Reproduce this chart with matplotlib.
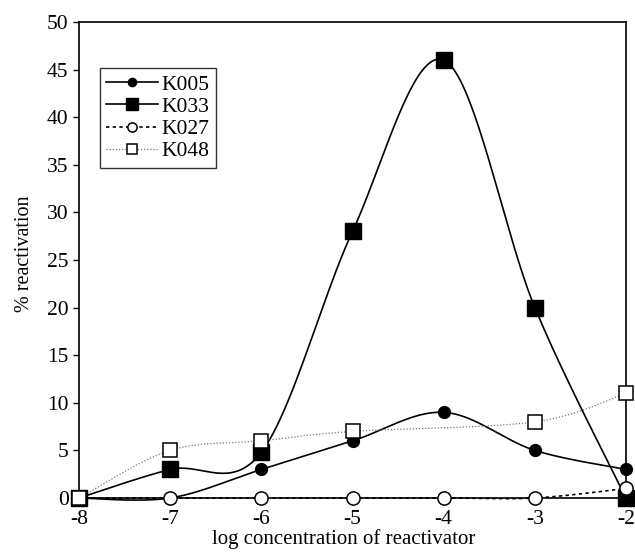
import numpy as np
import matplotlib
matplotlib.use('Agg')
import matplotlib.pyplot as plt

# data
log_conc = [-8, -7, -6, -5, -4, -3, -2]
k005 = [0, 0, 3, 6, 9, 5, 3]
k033 = [0, 3, 4.8, 28, 46, 20, 0]
k027 = [0, 0, 0, 0, 0, 0, 1]
k048_x = [-8, -7, -6, -5, -3, -2]
k048 = [0, 5, 6, 7, 8, 11]
x_labels = ['-8', '-7', '-6', '-5', '-4', '-3', '-2']


def smooth(x, y, n=40):
    # Excel-like smoothed line (Catmull-Rom bezier)
    x = np.asarray(x, float)
    y = np.asarray(y, float)
    px, py = [], []
    for i in range(len(x) - 1):
        i0 = max(i - 1, 0)
        i3 = min(i + 2, len(x) - 1)
        c1x = x[i] + (x[i + 1] - x[i0]) / 6
        c1y = y[i] + (y[i + 1] - y[i0]) / 6
        c2x = x[i + 1] - (x[i3] - x[i]) / 6
        c2y = y[i + 1] - (y[i3] - y[i]) / 6
        t = np.linspace(0, 1, n)
        b0 = (1 - t) ** 3
        b1 = 3 * (1 - t) ** 2 * t
        b2 = 3 * (1 - t) * t ** 2
        b3 = t ** 3
        px.extend(b0 * x[i] + b1 * c1x + b2 * c2x + b3 * x[i + 1])
        py.extend(b0 * y[i] + b1 * c1y + b2 * c2y + b3 * y[i + 1])
    return px, py


plt.rcParams['font.family'] = ['Liberation Serif', 'DejaVu Serif']
fig = plt.figure(figsize=(6.35, 5.52), dpi=100)
ax = fig.add_axes([79 / 635, 1 - 498 / 552, 547 / 635, 476 / 552])

series = [
    (log_conc, k005, 'K005', dict(color='black', lw=1.2, ls='-'),
     dict(marker='o', ms=8.5, mfc='black', mec='black')),
    (log_conc, k033, 'K033', dict(color='black', lw=1.2, ls='-'),
     dict(marker='s', ms=12, mfc='black', mec='black')),
    (log_conc, k027, 'K027', dict(color='black', lw=1.2, ls=(0, (2, 2))),
     dict(marker='o', ms=9.5, mfc='white', mec='black', mew=1.1)),
    (k048_x, k048, 'K048', dict(color='#777777', lw=0.9, ls=(0, (1, 1.5))),
     dict(marker='s', ms=9.5, mfc='white', mec='black', mew=1.1)),
]

for xs, ys, name, lstyle, mstyle in series:
    sx, sy = smooth(xs, ys)
    ax.plot(sx, sy, clip_on=False, zorder=2, **lstyle)
    ax.plot(xs, ys, ls='none', clip_on=False, zorder=3, **mstyle)
    # legend proxy
    ax.plot([], [], label=name, **lstyle, **mstyle)

ax.set_xlim(-8, -2)
ax.set_ylim(0, 50)
ax.set_xticks(log_conc)
ax.set_xticklabels(x_labels)
ax.set_yticks(range(0, 51, 5))
ax.tick_params(direction='out', length=4, labelsize=15.5, width=1)
ax.tick_params(axis='x', pad=5)
for sp in ax.spines.values():
    sp.set_linewidth(1.2)
ax.set_xlabel('log concentration of reactivator', fontsize=15, labelpad=0)
ax.set_ylabel('% reactivation', fontsize=14.5, labelpad=9)
ax.xaxis.label.set_x(0.483)
ax.yaxis.label.set_y(0.513)

leg = ax.legend(loc='upper left', bbox_to_anchor=(0.038, 0.903), fontsize=15.5,
                frameon=True, fancybox=False, edgecolor='black', borderpad=0.3,
                labelspacing=0.1, handlelength=2.4, handletextpad=0.15,
                borderaxespad=0, markerscale=0.7)
leg.get_frame().set_linewidth(1.0)

fig.savefig('out.png', dpi=100)
